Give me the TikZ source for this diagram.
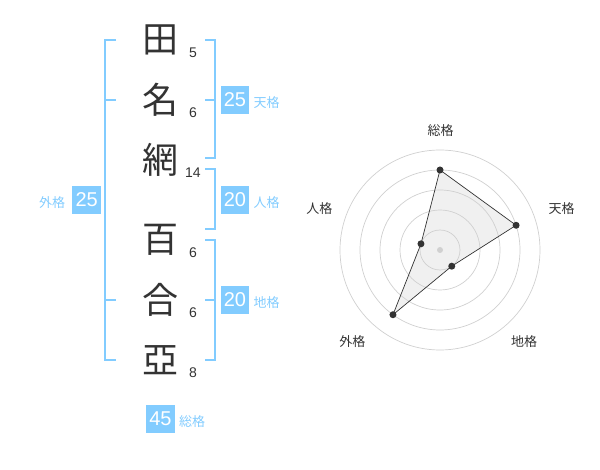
\documentclass[tikz,border=0pt]{standalone}
\usepackage{fontspec}
\setmainfont{Liberation Sans}
\newfontfamily\jpfont{Noto Sans CJK JP}
\usetikzlibrary{positioning,calc}
\definecolor{kakublue}{RGB}{130,204,255}
\definecolor{inkgray}{RGB}{51,51,51}
\definecolor{ringgray}{RGB}{208,208,208}

\tikzset{
  kanji/.style={font=\jpfont\fontsize{36}{36}\selectfont, text=inkgray, inner sep=0pt},
  strokes/.style={font=\fontsize{14}{14}\selectfont, text=inkgray, inner sep=0pt},
  score/.style={fill=kakublue, text=white, font=\fontsize{20}{20}\selectfont, minimum size=28.6pt, inner sep=0pt},
  kaku/.style={font=\jpfont\fontsize{13}{13}\selectfont, text=kakublue, inner sep=0pt, yshift=-3pt},
  axislabel/.style={font=\jpfont\fontsize{13}{13}\selectfont, text=inkgray, inner sep=0pt},
  bracket/.style={draw=kakublue, line width=2pt},
  ring/.style={draw=ringgray, line width=0.7pt},
  dot/.style={circle, fill=inkgray, minimum size=7pt, inner sep=0pt},
}

\begin{document}
\begin{tikzpicture}[x=1pt, y=-1pt]
\useasboundingbox (0,0) rectangle (600,470);

% name with stroke counts
\foreach \ch/\y/\n [count=\i] in {田/40/5, 名/100/6, 網/160/14, 百/240/6, 合/300/6, 亞/360/8} {
  \node[kanji] (c\i) at (160,\y) {\ch};
  \node[strokes] (s\i) at (193,\y+13) {\n};
}

% brackets
\draw[bracket] (116,40) -- (105,40) -- (105,360) -- (116,360);
\draw[bracket] (105,100) -- (116,100);
\draw[bracket] (105,300) -- (116,300);
\draw[bracket] (205,40) -- (215,40) -- (215,158.5) -- (205,158.5);
\draw[bracket] (205,100) -- (215,100);
\draw[bracket] (205,169.5) -- (215,169.5) -- (215,229.5) -- (205,229.5);
\draw[bracket] (205,240) -- (215,240) -- (215,360) -- (205,360);
\draw[bracket] (205,300) -- (215,300);

% scores
\node[score] (ten) at (235,100) {25};
\node[kaku, right=4pt of ten] (tenlab) {天格};
\node[score] (jin) at (235,200) {20};
\node[kaku, right=4pt of jin] (jinlab) {人格};
\node[score] (chi) at (235,300) {20};
\node[kaku, right=4pt of chi] (chilab) {地格};
\node[score] (gai) at (86.7,200) {25};
\node[kaku, left=7pt of gai] (gailab) {外格};
\node[score] (sou) at (160.5,419) {45};
\node[kaku, right=4pt of sou] (soulab) {総格};

% radar chart
\coordinate (o) at (440,250);
\foreach \lab/\a/\v/\lx/\ly [count=\i] in {総格/90/80/440.7/131, 天格/18/80/561.7/209, 地格/-54/20/524/342, 外格/-126/80/352.3/342, 人格/162/20/319.3/209} {
  \coordinate (p\i) at ($(o)+(-\a:\v)$);
  \node[axislabel] (l\i) at (\lx,\ly) {\lab};
}
\fill[black, opacity=0.06] (p1) -- (p2) -- (p3) -- (p4) -- (p5) -- cycle;
\foreach \r in {20,40,...,100}
  \draw[ring] (o) circle (\r);
\fill[ringgray] (o) circle (3);
\draw[inkgray, line width=0.7pt] (p1) -- (p2) -- (p3) -- (p4) -- (p5) -- cycle;
\foreach \i in {1,...,5}
  \node[dot] at (p\i) {};
\end{tikzpicture}
\end{document}
